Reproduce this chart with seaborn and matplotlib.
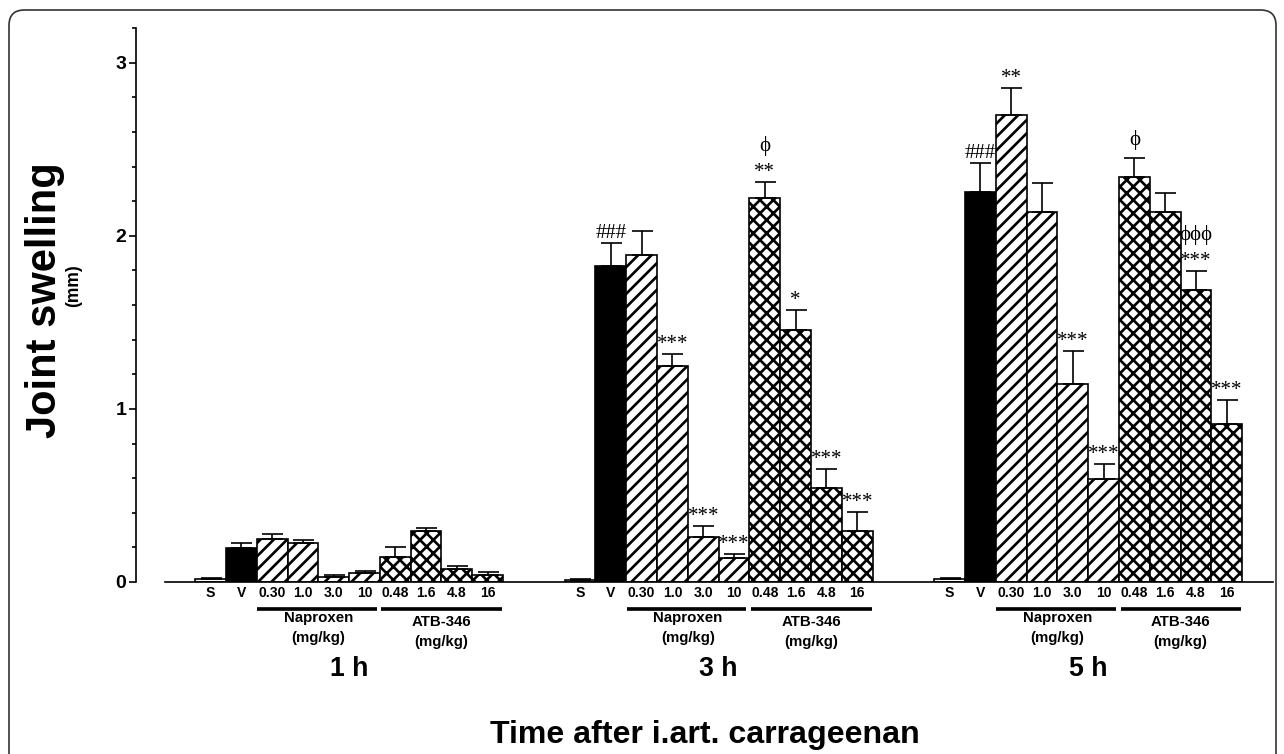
import numpy as np
import pandas as pd
import matplotlib
matplotlib.use("Agg")
import matplotlib.pyplot as plt
import matplotlib.transforms as mtrans
from matplotlib.patches import FancyBboxPatch
from matplotlib.ticker import MultipleLocator
import seaborn as sns

# ---------------- data ----------------
groups = ['1 h', '3 h', '5 h']
bar_labels = ['S', 'V', '0.30', '1.0', '3.0', '10', '0.48', '1.6', '4.8', '16']
treatment = ['Saline', 'Vehicle'] + ['Naproxen'] * 4 + ['ATB-346'] * 4

mean_1h = [0.015, 0.194, 0.246, 0.223, 0.027, 0.050, 0.146, 0.294, 0.075, 0.040]
sem_1h = [0.008, 0.030, 0.031, 0.020, 0.013, 0.015, 0.054, 0.019, 0.019, 0.020]
mean_3h = [0.010, 1.823, 1.891, 1.250, 0.261, 0.140, 2.220, 1.458, 0.541, 0.296]
sem_3h = [0.006, 0.137, 0.136, 0.065, 0.064, 0.020, 0.090, 0.113, 0.110, 0.110]
mean_5h = [0.015, 2.252, 2.695, 2.135, 1.143, 0.594, 2.339, 2.137, 1.689, 0.910]
sem_5h = [0.008, 0.166, 0.157, 0.169, 0.194, 0.090, 0.110, 0.112, 0.107, 0.139]

stars_1h = [''] * 10
stars_3h = ['', '###', '', '***', '***', '***', '**', '*', '***', '***']
stars_5h = ['', '###', '**', '', '***', '***', '', '', '***', '***']
phi_1h = [''] * 10
phi_3h = [''] * 6 + ['ϕ', '', '', '']
phi_5h = [''] * 6 + ['ϕ', '', 'ϕϕϕ', '']

drug_names = ['Naproxen', 'ATB-346']
unit_label = '(mg/kg)'
x_title = 'Time after i.art. carrageenan'
y_title = 'Joint swelling'
y_unit = '(mm)'

# ---------------- build table ----------------
means = [mean_1h, mean_3h, mean_5h]
sems = [sem_1h, sem_3h, sem_5h]
stars = [stars_1h, stars_3h, stars_5h]
phis = [phi_1h, phi_3h, phi_5h]
GAP = 12
rows = []
for g, gname in enumerate(groups):
    for i, lab in enumerate(bar_labels):
        rows.append(dict(group=gname, label=lab, treatment=treatment[i],
                         pos=g * GAP + i, value=means[g][i], sem=sems[g][i],
                         star=stars[g][i], phi=phis[g][i]))
df = pd.DataFrame(rows)

# ---------------- figure ----------------
sns.set_style('ticks')
plt.rcParams['font.family'] = ['Liberation Sans', 'DejaVu Sans']
plt.rcParams['hatch.linewidth'] = 1.6
plt.rcParams['hatch.color'] = 'black'
for k in ['text.color', 'axes.labelcolor', 'xtick.color', 'ytick.color',
          'axes.edgecolor', 'xtick.labelcolor', 'ytick.labelcolor']:
    plt.rcParams[k] = 'black'

DPI = 120
W, H = 1284, 754
fig = plt.figure(figsize=(W / DPI, H / DPI), dpi=DPI)
ax = fig.add_axes([136 / W, 1 - 582 / H, 1137 / W, 554 / H])

sns.barplot(data=df, x='pos', y='value', native_scale=True, width=1.0,
            errorbar=None, color='white', edgecolor='black', linewidth=1.0,
            saturation=1, ax=ax)

tr_by_pos = dict(zip(df['pos'], df['treatment']))
for p in ax.patches:
    c = int(round(p.get_x() + p.get_width() / 2))
    t = tr_by_pos.get(c)
    p.set_edgecolor('black')
    p.set_linewidth(1.0)
    if t == 'Vehicle':
        p.set_facecolor('black')
    elif t == 'Naproxen':
        p.set_facecolor('white')
        p.set_hatch('///')
    elif t == 'ATB-346':
        p.set_facecolor('white')
        p.set_hatch('xxx')
    else:
        p.set_facecolor('white')

ax.errorbar(df['pos'], df['value'], yerr=[np.zeros(len(df)), df['sem']],
            fmt='none', ecolor='black', elinewidth=1.0, capsize=6.3,
            capthick=1.0, zorder=3)

# significance marks
serif = ['Liberation Serif', 'DejaVu Serif']
for _, r in df.iterrows():
    top = r['value'] + r['sem']
    if r['star']:
        ax.annotate(r['star'], (r['pos'], top), xytext=(0, 3.0),
                    textcoords='offset points', ha='center', va='baseline',
                    fontsize=12.5, family=serif, color='black')
    if r['phi']:
        off = 18.6 if r['star'] else 7.8
        ax.annotate(r['phi'], (r['pos'], top), xytext=(0, off),
                    textcoords='offset points', ha='center', va='baseline',
                    fontsize=12.5, family=serif, color='black')

# axes
ax.set_xlim(-2.42, 34.5)
ax.set_ylim(0, 3.2)
ax.set_xticks(df['pos'])
ax.set_xticklabels(df['label'], fontsize=8.4, fontweight='bold')
ax.tick_params(axis='x', length=0, pad=2.5)
ax.yaxis.set_major_locator(MultipleLocator(1))
ax.yaxis.set_minor_locator(MultipleLocator(0.2))
ax.set_yticks([0, 1, 2, 3])
ax.set_yticklabels(['0', '1', '2', '3'], fontsize=11.7, fontweight='bold')
ax.tick_params(axis='y', which='major', length=4.2, width=1.0, pad=1.5,
               color='black', labelcolor='black')
ax.tick_params(axis='y', which='minor', length=2.6, width=1.0, color='black')
ax.tick_params(axis='x', labelcolor='black')
ax.set_xlabel('')
ax.set_ylabel('')
for s in ['top', 'right']:
    ax.spines[s].set_visible(False)
for s in ['left', 'bottom']:
    ax.spines[s].set_linewidth(1.0)
    ax.spines[s].set_color('black')
ax.spines['left'].set_bounds(0, 3.2)
ax.spines['bottom'].set_bounds(-1.47, 34.5)

# drug underlines and labels
trans = mtrans.blended_transform_factory(ax.transData, ax.transAxes)
for g, gname in enumerate(groups):
    base = g * GAP
    ax.plot([base + 1.51, base + 5.39], [-0.0487, -0.0487], color='black',
            lw=2.2, transform=trans, clip_on=False, solid_capstyle='butt')
    ax.plot([base + 5.55, base + 9.47], [-0.0487, -0.0487], color='black',
            lw=2.2, transform=trans, clip_on=False, solid_capstyle='butt')
    ax.text(base + 3.5, -0.065, drug_names[0], transform=trans, ha='center',
            va='center', fontsize=9, fontweight='bold')
    ax.text(base + 3.5, -0.101, unit_label, transform=trans, ha='center',
            va='center', fontsize=9, fontweight='bold')
    ax.text(base + 7.5, -0.072, drug_names[1], transform=trans, ha='center',
            va='center', fontsize=9, fontweight='bold')
    ax.text(base + 7.5, -0.108, unit_label, transform=trans, ha='center',
            va='center', fontsize=9, fontweight='bold')
    ax.text(base + 4.5, -0.157, gname, transform=trans, ha='center',
            va='center', fontsize=16, fontweight='bold')

fig.text(0.5 * (490 + 920) / W, 1 - 735 / H, x_title, ha='center',
         va='center', fontsize=19.3, fontweight='bold')
fig.text(45 / W, 1 - 300 / H, y_title, ha='center', va='center',
         rotation=90, fontsize=25, fontweight='bold')
fig.text(74 / W, 1 - 286 / H, y_unit, ha='center', va='center',
         rotation=90, fontsize=10.5, fontweight='bold')

# rounded frame
frame = FancyBboxPatch((9 / W, 1 - 800 / H), (1276 - 9) / W,
                       (800 - 10) / H,
                       boxstyle='round,pad=0,rounding_size=0.012',
                       transform=fig.transFigure, fill=False,
                       edgecolor='#333333', linewidth=1.0, clip_on=False,
                       mutation_aspect=W / H)
fig.patches.append(frame)

fig.savefig('out.png', dpi=DPI)
